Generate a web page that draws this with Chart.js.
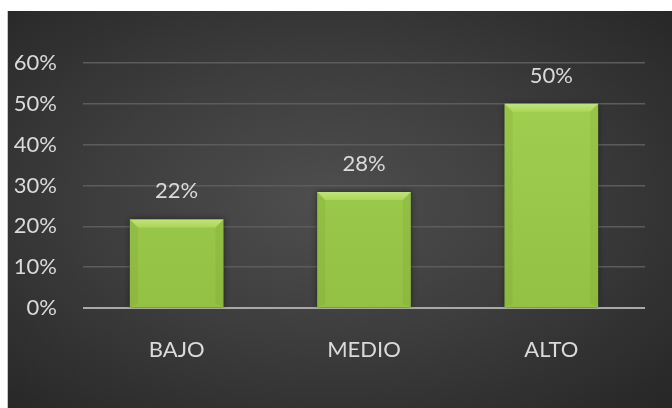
<!DOCTYPE html>
<html lang="es">
<head>
  <meta charset="UTF-8" />
  <title>Niveles</title>
  <script src="https://cdn.jsdelivr.net/npm/chart.js"></script>
  <style>
    html, body {
      margin: 0;
      padding: 0;
      width: 672px;
      height: 408px;
      background: #ffffff;
      overflow: hidden;
    }
    #bg {
      position: absolute;
      left: 7px;
      top: 11px;
      right: 0;
      bottom: 0;
      border-left: 1px solid #c8c8c8;
      background: radial-gradient(ellipse at 48% 48%, #4e4e4e 0%, #3e3e3e 45%, #262626 100%);
    }
    #wrap {
      position: absolute;
      left: 0;
      top: 0;
      width: 672px;
      height: 408px;
    }
  </style>
</head>
<body>
  <div id="bg"></div>
  <div id="wrap"><canvas id="myChart" width="672" height="408"></canvas></div>

  <script>
    // data
    const categories = ["BAJO", "MEDIO", "ALTO"];
    const values = [0.217, 0.284, 0.50];
    const valueLabels = ["22%", "28%", "50%"];
    const yTicks = [0, 0.1, 0.2, 0.3, 0.4, 0.5, 0.6];

    const FONT = "Lato, 'Open Sans', sans-serif";
    const TEXT = "#dadada";

    // soft shadow behind bars, bevel + value labels on top
    const barDeco = {
      id: "barDeco",
      beforeDatasetDraw(chart) {
        const c = chart.ctx;
        c.save();
        c.shadowColor = "rgba(0,0,0,0.45)";
        c.shadowBlur = 6;
      },
      afterDatasetDraw(chart) {
        chart.ctx.restore();
      },
      afterDatasetsDraw(chart) {
        const c = chart.ctx;
        const meta = chart.getDatasetMeta(0);
        meta.data.forEach((bar, i) => {
          const p = bar.getProps(["x", "y", "base", "width"], true);
          const l = p.x - p.width / 2, r = p.x + p.width / 2;
          const t = p.y, b = p.base, d = 8;
          c.save();
          // top bevel
          const g = c.createLinearGradient(0, t, 0, t + d);
          g.addColorStop(0, "#c0e474");
          g.addColorStop(1, "#acd65c");
          c.fillStyle = g;
          c.beginPath();
          c.moveTo(l, t); c.lineTo(r, t); c.lineTo(r - d, t + d); c.lineTo(l + d, t + d);
          c.closePath(); c.fill();
          // sides
          c.fillStyle = "rgba(60,90,10,0.08)";
          c.beginPath();
          c.moveTo(l, t); c.lineTo(l + d, t + d); c.lineTo(l + d, b - 3); c.lineTo(l, b);
          c.closePath(); c.fill();
          c.beginPath();
          c.moveTo(r, t); c.lineTo(r - d, t + d); c.lineTo(r - d, b - 3); c.lineTo(r, b);
          c.closePath(); c.fill();
          // value label
          c.fillStyle = TEXT;
          c.font = "22px " + FONT;
          c.textAlign = "center";
          c.textBaseline = "middle";
          c.fillText(valueLabels[i], p.x, t - 28);
          c.restore();
        });
      }
    };

    const ctx = document.getElementById("myChart").getContext("2d");

    const chart = new Chart(ctx, {
      type: "bar",
      data: {
        labels: categories,
        datasets: [{
          data: values,
          backgroundColor: (context) => {
            const area = context.chart.chartArea;
            if (!area) return "#9cc94b";
            const g = context.chart.ctx.createLinearGradient(0, area.top, 0, area.bottom);
            g.addColorStop(0, "#a2d051");
            g.addColorStop(1, "#93c144");
            return g;
          },
          borderWidth: 0,
          categoryPercentage: 1,
          barPercentage: 0.5
        }]
      },
      options: {
        responsive: false,
        animation: false,
        devicePixelRatio: 1,
        layout: { padding: { left: 0, right: 27, top: 63, bottom: 0 } },
        plugins: {
          legend: { display: false },
          tooltip: { enabled: false }
        },
        scales: {
          x: {
            grid: { display: false },
            border: { display: false },
            ticks: {
              color: TEXT,
              font: { family: FONT, size: 22 },
              padding: 21
            },
            afterFit: (s) => { s.height = 100; }
          },
          y: {
            min: 0,
            max: 0.6,
            afterBuildTicks: (s) => { s.ticks = yTicks.map(v => ({ value: v })); },
            afterFit: (s) => { s.width = 83; },
            border: { display: false },
            grid: {
              drawTicks: false,
              color: (c) => c.tick && c.tick.value === 0 ? "#a9a9a9" : "#5c5c5c",
              lineWidth: (c) => c.tick && c.tick.value === 0 ? 2 : 1.5
            },
            ticks: {
              color: TEXT,
              font: { family: FONT, size: 22 },
              padding: 26,
              callback: (v) => Math.round(v * 100) + "%"
            }
          }
        }
      },
      plugins: [barDeco]
    });
  </script>
</body>
</html>
